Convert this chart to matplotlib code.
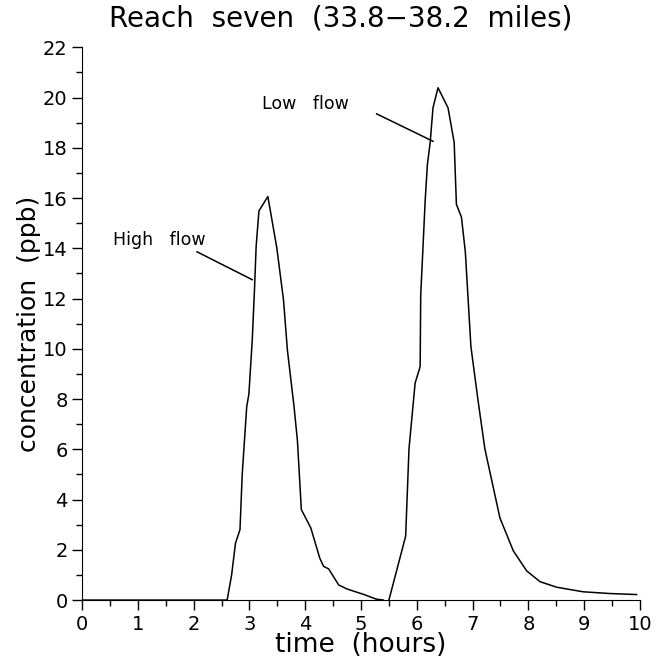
import matplotlib
matplotlib.use("Agg")
import matplotlib.pyplot as plt
from matplotlib.ticker import MultipleLocator

plt.rcParams['font.family'] = ['DejaVu Sans']

# concentration curves (time in hours, conc in ppb)
high_t = [0.0, 2.60, 2.68, 2.75, 2.83, 2.87, 2.95, 2.99, 3.05, 3.09, 3.12, 3.17,
          3.33, 3.49, 3.61, 3.68, 3.80, 3.86, 3.93, 4.10, 4.26, 4.33, 4.42,
          4.60, 4.75, 5.04, 5.27, 5.40]
high_c = [0.0, 0.0, 1.0, 2.27, 2.80, 5.0, 7.68, 8.21, 10.35, 12.35, 14.09, 15.49,
          16.06, 14.02, 11.95, 9.95, 7.68, 6.34, 3.60, 2.87, 1.67, 1.34, 1.24,
          0.60, 0.44, 0.23, 0.04, 0.0]

low_t = [5.50, 5.80, 5.86, 5.97, 6.06, 6.07, 6.15, 6.19, 6.24, 6.29, 6.38,
         6.56, 6.67, 6.71, 6.80, 6.87, 6.97, 7.10, 7.22, 7.49, 7.73, 7.97,
         8.21, 8.51, 8.98, 9.46, 9.94]
low_c = [0.0, 2.54, 6.02, 8.64, 9.29, 12.12, 15.89, 17.34, 18.21, 19.59, 20.39,
         19.59, 18.21, 15.75, 15.24, 13.86, 10.09, 7.91, 6.02, 3.27, 1.96, 1.16,
         0.73, 0.51, 0.33, 0.26, 0.22]

# labels with leader lines: text position, line start, line end
labels = ["High   flow", "Low   flow"]
label_xy = [(0.56, 14.34), (3.22, 19.74)]
leader_from = [(2.06, 13.86), (5.28, 19.35)]
leader_to = [(3.05, 12.75), (6.29, 18.26)]

fig = plt.figure(figsize=(6.57, 6.66), dpi=100)
ax = fig.add_axes([0.125, 0.099, 0.849, 0.830])

ax.plot(high_t, high_c, color='black', lw=1.1)
ax.plot(low_t, low_c, color='black', lw=1.1)

for lab, (tx, ty), (x0, y0), (x1, y1) in zip(labels, label_xy, leader_from, leader_to):
    ax.text(tx, ty, lab, fontsize=12.5, va='center', ha='left')
    ax.plot([x0, x1], [y0, y1], color='black', lw=1.1)

ax.set_xlim(0, 10)
ax.set_ylim(0, 22)
ax.spines['top'].set_visible(False)
ax.spines['right'].set_visible(False)
ax.xaxis.set_major_locator(MultipleLocator(1))
ax.xaxis.set_minor_locator(MultipleLocator(0.5))
ax.yaxis.set_major_locator(MultipleLocator(2))
ax.yaxis.set_minor_locator(MultipleLocator(1))
ax.tick_params(which='major', direction='out', length=7, width=1, labelsize=14)
ax.tick_params(which='minor', direction='out', length=4, width=1)

ax.set_xlabel('time  (hours)', fontsize=19, labelpad=-1)
ax.set_ylabel('concentration  (ppb)', fontsize=18, labelpad=1)
fig.text(341 / 657, 1 - 19 / 666, 'Reach  seven  (33.8\u221238.2  miles)',
         fontsize=20, ha='center', va='center')

fig.savefig('out.png', dpi=100)
